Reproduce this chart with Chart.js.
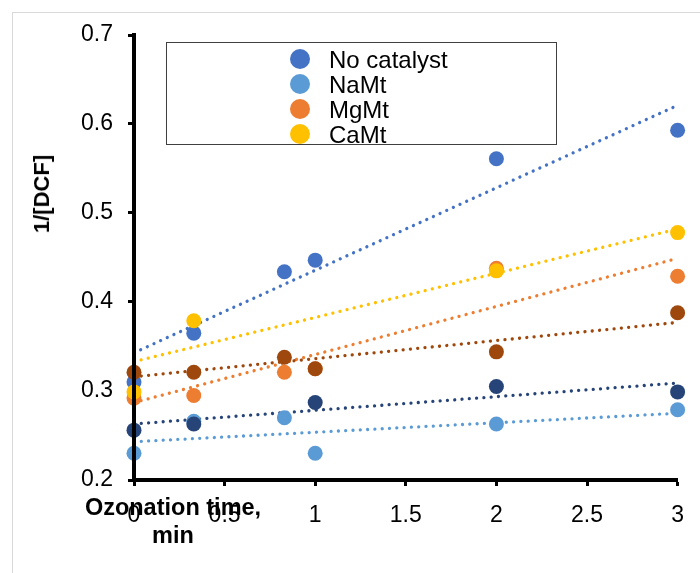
<!DOCTYPE html>
<html>
<head>
<meta charset="utf-8">
<script src="https://cdn.jsdelivr.net/npm/chart.js@4"></script>
<style>
  body { margin: 0; background: #fff; font-family: "Liberation Sans", Arial, sans-serif; }
  #wrap { position: relative; width: 700px; height: 573px; overflow: hidden; }
  #frame { position: absolute; left: 12px; top: 12px; width: 720px; height: 600px; border: 1px solid #d9d9d9; }
  #chart { position: absolute; left: 0; top: 0; }
  #legend { position: absolute; left: 166px; top: 42px; width: 389px; height: 101px; border: 1px solid #404040; background: #fff; }
  .item { position: absolute; left: 0; height: 25px; font-size: 24px; line-height: 25px; color: #000; }
  .dot { position: absolute; left: 123px; top: 2px; width: 20px; height: 20px; border-radius: 50%; }
  .txt { position: absolute; left: 162px; top: 0; white-space: nowrap; }
  #ytitle { position: absolute; left: 42px; top: 194px; transform: translate(-50%, -50%) rotate(-90deg); font-weight: bold; font-size: 22px; white-space: nowrap; }
  #xtitle { position: absolute; left: 173px; top: 493px; transform: translateX(-50%); font-weight: bold; font-size: 23.5px; line-height: 28px; text-align: center; white-space: nowrap; }
</style>
</head>
<body>
<div id="wrap">
  <div id="frame"></div>
  <canvas id="chart" width="700" height="573"></canvas>
  <div id="legend"></div>
  <div id="ytitle">1/[DCF]</div>
  <div id="xtitle">Ozonation time,<br>min</div>
</div>
<script>
// sampling times (min)
const times = [0, 0.33, 0.83, 1, 2, 3];

// 1/[DCF] at each sampling time, null where no point was taken
const noCatalyst = [0.31, 0.365, 0.434, 0.447, 0.561, 0.593];
const naMt = [0.230, 0.266, 0.270, 0.230, 0.263, 0.279];
const mgMt = [0.292, 0.295, 0.321, 0.325, 0.438, 0.429];
const caMt = [0.299, 0.379, null, null, 0.435, 0.478];
const series5 = [0.256, 0.263, null, 0.287, 0.305, 0.299];
const series6 = [0.321, 0.321, 0.338, 0.325, 0.344, 0.388];

// linear trendline values at t = 0 and t = 3
const trendX = [0, 3];
const noCatalystTrend = [0.343, 0.621];
const naMtTrend = [0.243, 0.275];
const mgMtTrend = [0.287, 0.449];
const caMtTrend = [0.333, 0.482];
const series5Trend = [0.263, 0.309];
const series6Trend = [0.316, 0.377];

const yTicks = [0.2, 0.3, 0.4, 0.5, 0.6, 0.7];
const xTicks = [0, 0.5, 1, 1.5, 2, 2.5, 3];

const series = [
  { label: 'No catalyst', ys: noCatalyst, trend: noCatalystTrend, color: '#4472C4', legend: true },
  { label: 'NaMt', ys: naMt, trend: naMtTrend, color: '#5B9BD5', legend: true },
  { label: 'MgMt', ys: mgMt, trend: mgMtTrend, color: '#ED7D31', legend: true },
  { label: 'CaMt', ys: caMt, trend: caMtTrend, color: '#FFC000', legend: true },
  { label: 'Series 5', ys: series5, trend: series5Trend, color: '#264478', legend: false },
  { label: 'Series 6', ys: series6, trend: series6Trend, color: '#9E480E', legend: false },
];

function toPoints(xs, ys) {
  const pts = [];
  xs.forEach((x, i) => { if (ys[i] !== null) pts.push({ x: x, y: ys[i] }); });
  return pts;
}

const datasets = [];
series.forEach((s, i) => {
  // trendlines sit under every marker
  datasets.push({
    label: s.label + ' trend',
    data: toPoints(trendX, s.trend),
    showLine: true,
    borderColor: s.color,
    borderWidth: 3.3,
    borderDash: [0.01, 7.3],
    borderCapStyle: 'round',
    pointRadius: 0,
    clip: false,
    order: 20 + (series.length - i),
  });
  // later series are drawn on top of earlier ones
  datasets.push({
    label: s.label,
    data: toPoints(times, s.ys),
    backgroundColor: s.color,
    borderWidth: 0,
    pointRadius: 7.5,
    clip: false,
    order: series.length - i,
  });
});

// legend box
const legendEl = document.getElementById('legend');
series.filter(s => s.legend).forEach((s, i) => {
  const item = document.createElement('div');
  item.className = 'item';
  item.style.top = (4 + i * 25) + 'px';
  item.innerHTML = '<span class="dot" style="background:' + s.color + '"></span><span class="txt">' + s.label + '</span>';
  legendEl.appendChild(item);
});

const axisFont = { family: '"Liberation Sans", Arial, sans-serif', size: 23 };

new Chart(document.getElementById('chart').getContext('2d'), {
  type: 'scatter',
  data: { datasets: datasets },
  options: {
    responsive: false,
    animation: false,
    layout: { padding: { left: 0, right: 22, top: 35, bottom: 0 } },
    plugins: { legend: { display: false }, tooltip: { enabled: false } },
    scales: {
      x: {
        type: 'linear',
        min: xTicks[0],
        max: xTicks[xTicks.length - 1],
        afterBuildTicks: s => { s.ticks = xTicks.map(v => ({ value: v })); },
        afterFit: s => { s.height = 93; },
        ticks: { font: axisFont, color: '#000', padding: 16, maxRotation: 0, callback: v => String(v) },
        // axis line goes over the markers
        border: { color: '#000', width: 4, z: 1 },
        grid: { drawOnChartArea: false, tickLength: 6, tickWidth: 3, tickColor: '#000' },
      },
      y: {
        min: yTicks[0],
        max: yTicks[yTicks.length - 1],
        afterBuildTicks: s => { s.ticks = yTicks.map(v => ({ value: v })); },
        afterFit: s => { s.width = 134; },
        ticks: { font: axisFont, color: '#000', padding: 15, callback: v => Number(v).toFixed(1) },
        border: { color: '#000', width: 4, z: 1 },
        grid: { drawOnChartArea: false, tickLength: 6, tickWidth: 3, tickColor: '#000' },
      },
    },
  },
});
</script>
</body>
</html>
